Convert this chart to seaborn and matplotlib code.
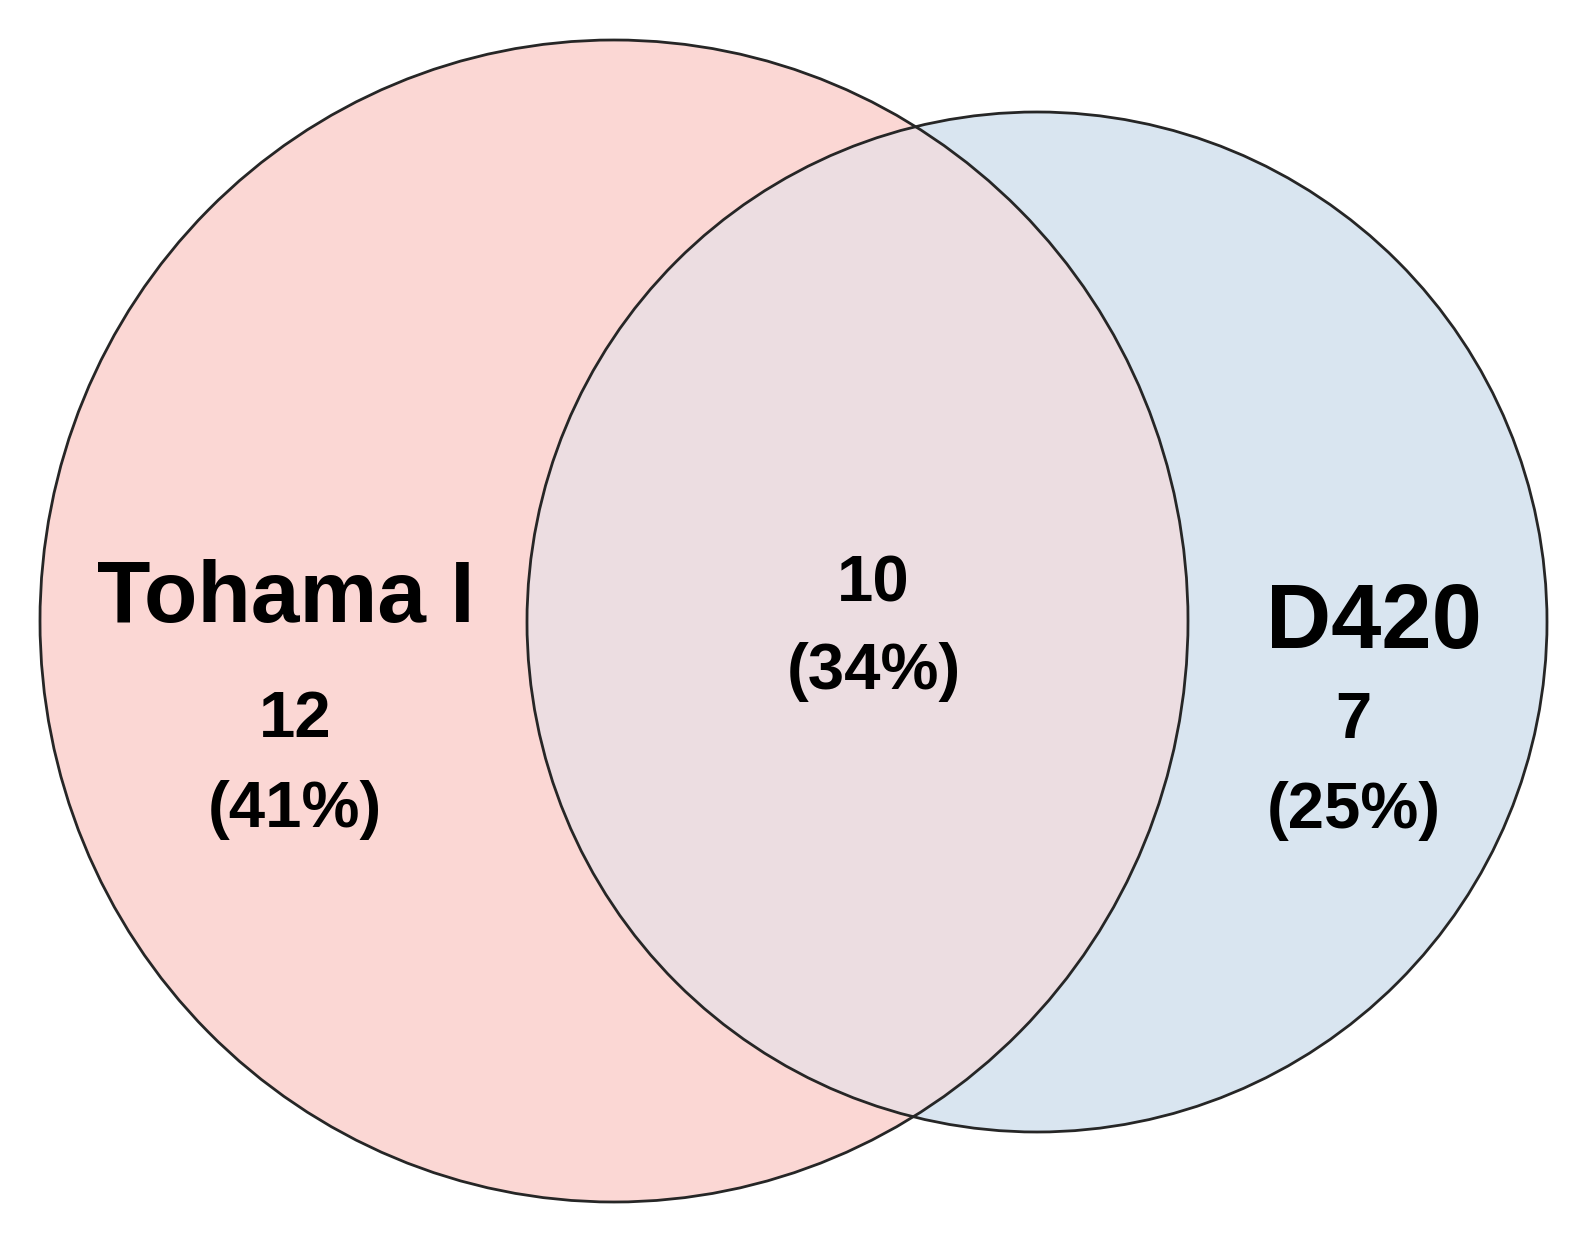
"""
Venn diagram of shared / unique items between Tohama I and D420.
"""

import matplotlib
matplotlib.use("Agg")
import matplotlib.pyplot as plt
from matplotlib.patches import Ellipse
import seaborn as sns

sns.set_theme(style="white")
plt.rcParams["font.family"] = ["Liberation Sans", "DejaVu Sans"]

# data
set_names = ["Tohama I", "D420"]
region_counts = [12, 10, 7]        # only Tohama I, both, only D420
region_pcts = [41, 34, 25]

# layout (pixel space of the 1582x1248 canvas, text y = baseline)
W, H = 1582, 1248
circle_centers = [(614, 621), (1037, 622)]
circle_sizes = [(1148, 1162), (1020, 1020)]
fill_colors = ["#fbd7d4", "#d9e5f0"]
overlap_color = "#ecdde1"
name_pos = [(286, 622), (1374, 648)]
name_sizes = [63, 65]
count_pos = [(295, 737), (873, 602), (1353, 738)]
pct_pos = [(295, 827), (874, 689), (1354, 828)]

fig = plt.figure(figsize=(W / 100, H / 100), dpi=100)
ax = fig.add_axes([0, 0, 1, 1])
ax.set_xlim(0, W)
ax.set_ylim(H, 0)
ax.axis("off")

patches = []
for (cx, cy), (w, h), col in zip(circle_centers, circle_sizes, fill_colors):
    e = Ellipse((cx, cy), w, h, facecolor=col, edgecolor="none", zorder=1)
    ax.add_patch(e)
    patches.append(e)

# overlap: right circle drawn in overlap colour, clipped to the left circle
ov = Ellipse(circle_centers[1], *circle_sizes[1], facecolor=overlap_color,
             edgecolor="none", zorder=2)
ax.add_patch(ov)
ov.set_clip_path(patches[0])

for (cx, cy), (w, h) in zip(circle_centers, circle_sizes):
    ax.add_patch(Ellipse((cx, cy), w, h, facecolor="none", edgecolor="#262626",
                         linewidth=2.0, zorder=3))

for name, (x, y), fs in zip(set_names, name_pos, name_sizes):
    ax.text(x, y, name, fontsize=fs, fontweight="bold", ha="center",
            va="baseline", color="black", zorder=4)

for n, p, (x1, y1), (x2, y2) in zip(region_counts, region_pcts, count_pos, pct_pos):
    ax.text(x1, y1, f"{n}", fontsize=47, fontweight="bold", ha="center",
            va="baseline", color="black", zorder=4)
    ax.text(x2, y2, f"({p}%)", fontsize=47, fontweight="bold", ha="center",
            va="baseline", color="black", zorder=4)

fig.savefig("out.png", dpi=100, facecolor="white")
